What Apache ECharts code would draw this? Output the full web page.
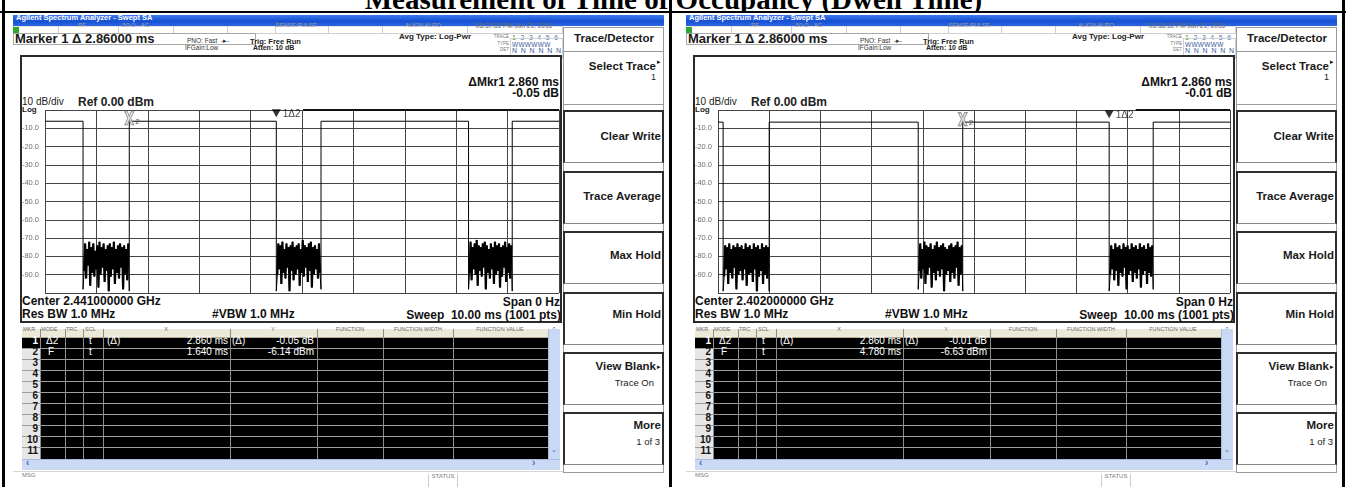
<!DOCTYPE html>
<html><head><meta charset="utf-8">
<script src="https://cdn.jsdelivr.net/npm/echarts@6/dist/echarts.min.js"></script>
<style>
html,body{margin:0;padding:0;}
body{width:1346px;height:487px;overflow:hidden;background:#fff;position:relative;font-family:"Liberation Sans",Arial,sans-serif;}
.a{position:absolute;white-space:pre;box-sizing:border-box;}
#chrome{position:absolute;left:0;top:0;width:1346px;height:487px;z-index:1;}
#chart{position:absolute;left:0;top:0;width:1346px;height:487px;z-index:2;}
</style></head>
<body>
<div id="chrome"></div>
<div id="chart"></div>
<script>
// ---------------- data ----------------
const TITLE = 'Measurement of Time of Occupancy (Dwell Time)';
const Y_TICK_LABELS = ['-10.0','-20.0','-30.0','-40.0','-50.0','-60.0','-70.0','-80.0','-90.0'];
// sweep time axis (ms), 10 divisions
const X_MIN = 0, X_MAX = 10;
// trace edges (ms): high / noise / high / noise / high / noise / high
const L_EDGES = [0, 0.74, 1.64, 4.50, 5.37, 8.24, 9.09, 10];
const R_EDGES = [0, 0.10, 1.00, 3.91, 4.78, 7.64, 8.50, 10];
const L_HIGH = -6.14;
const R_HIGH = -6.63;
// marker 2 (fixed) [ms, dBm], marker 1 delta [ms, dB]
const L_MK2 = [1.64, -6.14];
const R_MK2 = [4.78, -6.63];
const L_MK1_DELTA = [2.86, -0.05];
const R_MK1_DELTA = [2.86, -0.01];
// noise floor samples (dBm) for the off periods
const L_N1 = [-98,-88,-73,-92,-76,-85,-72,-96,-75,-89,-73,-91,-77,-87,-74,-97,-72,-90,-75,-86,-73,-94,-76,-88,-74,-99,-73,-91,-75,-87,-72,-95,-76,-89,-74,-92,-73,-86,-75,-98,-74,-90,-76,-93,-73,-99];
const L_N2 = [-99,-90,-73,-87,-74,-95,-72,-89,-76,-92,-73,-86,-75,-99,-74,-88,-72,-93,-75,-90,-74,-87,-73,-96,-76,-89,-71,-91,-74,-86,-75,-94,-73,-88,-72,-97,-75,-90,-74,-87,-76,-92,-73,-89,-98];
const L_N3 = [-98,-89,-72,-93,-75,-87,-73,-90,-71,-96,-74,-88,-75,-91,-73,-86,-72,-98,-74,-89,-76,-92,-73,-87,-75,-95,-72,-90,-74,-88,-73,-97,-75,-91,-74,-86,-72,-94,-75,-89,-73,-92,-74,-99];
const R_N1 = [-99,-91,-74,-87,-75,-95,-73,-89,-76,-92,-74,-86,-75,-98,-73,-90,-75,-88,-74,-93,-76,-87,-73,-96,-75,-90,-74,-89,-76,-94,-73,-87,-75,-99,-74,-91,-76,-88,-73,-95,-75,-90,-74,-92,-75,-99];
const R_N2 = [-98,-88,-73,-92,-76,-87,-72,-95,-74,-90,-75,-86,-73,-97,-76,-89,-74,-93,-72,-88,-75,-91,-74,-87,-73,-99,-75,-90,-76,-88,-74,-94,-73,-89,-75,-92,-74,-86,-72,-96,-75,-90,-74,-99];
const R_N3 = [-99,-90,-74,-87,-76,-93,-73,-88,-75,-96,-74,-89,-76,-91,-73,-86,-75,-98,-74,-90,-76,-88,-73,-94,-75,-89,-74,-92,-76,-87,-73,-97,-75,-90,-74,-88,-76,-95,-73,-89,-75,-91,-74,-98];
// screen texts
const L_TEXT = {time:'05:37:51 PM Jun 21, 2016', dMkr:'ΔMkr1 2.860 ms', dVal:'-0.05 dB', center:'Center 2.441000000 GHz', r1x:'2.860 ms', r1y:'-0.05 dB', r2x:'1.640 ms', r2y:'-6.14 dBm'};
const R_TEXT = {time:'05:36:12 PM Jun 21, 2016', dMkr:'ΔMkr1 2.860 ms', dVal:'-0.01 dB', center:'Center 2.402000000 GHz', r1x:'2.860 ms', r1y:'-0.01 dB', r2x:'4.780 ms', r2y:'-6.63 dBm'};
const SOFTKEYS = [['Clear Write',''],['Trace Average',''],['Max Hold',''],['Min Hold',''],['View Blank','Trace On'],['More','1 of 3']];
const TABLE_HEAD = ['FUNCTION','FUNCTION WIDTH','FUNCTION VALUE'];

// ---------------- chrome (HTML) ----------------
const F = '"Liberation Sans",Arial,sans-serif';
const root = document.getElementById('chrome');
function el(x,y,w,h,css){const d=document.createElement('div');d.className='a';d.style.cssText=`left:${x}px;top:${y}px;width:${w}px;height:${h}px;`+(css||'');root.appendChild(d);return d;}
function tx(x,yc,s,css,align,html){const d=document.createElement('div');d.className='a';if(html)d.innerHTML=s;else d.textContent=s;let st=`top:${yc-8}px;height:16px;line-height:16px;`+(css||'');if(align==='r'){st+=`right:${1346-x}px;text-align:right;`;}else if(align==='c'){st+=`left:${x-150}px;width:300px;text-align:center;`;}else{st+=`left:${x}px;`;}d.style.cssText=st;root.appendChild(d);return d;}

// outer document table
const tc = el(5,0,1337,11,'overflow:hidden;');
const tt = document.createElement('div');tt.className='a';tt.textContent=TITLE;
tt.style.cssText=`left:0;top:-15px;width:1337px;text-align:center;font:bold 29px "Liberation Serif","Times New Roman",serif;line-height:29px;color:#000;`;
tc.appendChild(tt);
el(0,11,1346,2,'background:#000;');
el(2,0,3,487,'background:#000;');
el(669,0,3,487,'background:#000;');
el(1342,0,3,487,'background:#000;');

function drawScreen(d,T){
  // title bar
  el(d+13,15,651,11,'background:linear-gradient(#3c7aec,#1651d4 55%,#2c66e0);');
  tx(d+16,20.5,'Agilent Spectrum Analyzer - Swept SA',`font:bold 7.5px ${F};color:#fff;`);
  // status row
  el(d+13,26,550,8,'background:#fff;border-top:1px solid #e2e2e2;border-bottom:1px solid #cfcfcf;');
  el(d+13,27,6,6,'background:#2fa82f;');
  [58,118,173,227,275,328,382,467,562].forEach(x=>el(d+x,26,1,8,'background:#cfcfcf;'));
  const sm=`font:6px ${F};color:#a0a0a0;`;
  tx(d+82,30,'RF',sm,'c');tx(d+129,30,'50 Ω',sm,'c');tx(d+145,30,'AC',sm,'c');
  tx(d+296,30,'SENSE:PULSE',sm,'c');tx(d+423,30,'ALIGN AUTO',sm,'c');
  tx(d+514,30,T.time,`font:6.5px ${F};color:#6a6a6a;`,'c');
  // marker entry
  el(d+13,33,243,12,'border:1px solid #a8a8a8;background:#fff;');
  tx(d+15,39,'Marker 1 Δ 2.86000 ms',`font:bold 13px ${F};color:#1a1a1a;`);
  tx(d+187,45,'PNO: Fast  -▸-',`font:6.5px ${F};color:#333;`);
  tx(d+185,51.5,'IFGain:Low',`font:6.5px ${F};color:#333;`);
  tx(d+250,45,'Trig: Free Run',`font:bold 7.5px ${F};color:#222;`);
  tx(d+253,52,'Atten: 10 dB',`font:bold 7px ${F};color:#222;`);
  tx(d+399,40,'Avg Type: Log-Pwr',`font:bold 8px ${F};color:#222;`);
  tx(d+509,42,'TRACE',`font:4.5px ${F};color:#777;`,'r');
  tx(d+512,42,'<span style="color:#3a9a3a">1</span> 2 3 4 5 6',`font:7px ${F};color:#5b7ab0;letter-spacing:1.3px;`,'l',true);
  tx(d+509,48.5,'TYPE',`font:4.5px ${F};color:#777;`,'r');
  tx(d+512,48.5,'WWWWWW',`font:6.5px ${F};color:#3a5a9a;letter-spacing:0.3px;`);
  tx(d+509,55,'DET',`font:4.5px ${F};color:#777;`,'r');
  tx(d+512,55,'N N N N N N',`font:7px ${F};color:#3a5a9a;letter-spacing:0.9px;`);
  el(d+510,38,53,21,'border:1px solid #d0d0d0;');
  // plot frame
  el(d+20,55,542,268,'border:2px solid #2a2a2a;background:#fff;');
  tx(d+559,83,T.dMkr,`font:bold 12px ${F};color:#111;`,'r');
  tx(d+559,93.5,T.dVal,`font:bold 12px ${F};color:#111;`,'r');
  tx(d+22,103.5,'10 dB/div',`font:10px ${F};color:#222;`);
  tx(d+78,102.5,'Ref 0.00 dBm',`font:bold 12px ${F};color:#222;`);
  tx(d+22,113,'Log',`font:bold 8px ${F};color:#222;`);
  tx(d+22,302,T.center,`font:bold 12px ${F};color:#111;`);
  tx(d+22,314.5,'Res BW 1.0 MHz',`font:bold 12px ${F};color:#111;`);
  tx(d+212,314.5,'#VBW 1.0 MHz',`font:bold 12px ${F};color:#111;`);
  tx(d+560,303,'Span 0 Hz',`font:bold 12px ${F};color:#111;`,'r');
  tx(d+561,315.5,'Sweep  10.00 ms (1001 pts)',`font:bold 12px ${F};color:#111;`,'r');
  // marker table
  el(d+22,329,538,9,'background:#ece9d8;border-bottom:1px solid #b5ae96;');
  const hs=`font:5.5px ${F};color:#6a6a6a;`;
  tx(d+23,333.5,'MKR',hs);tx(d+41,333.5,'MODE',hs);tx(d+66,333.5,'TRC',hs);tx(d+85,333.5,'SCL',hs);
  tx(d+166,333.5,'X',hs,'c');tx(d+273,333.5,'Y',hs,'c');
  tx(d+350,333.5,TABLE_HEAD[0],hs,'c');tx(d+418,333.5,TABLE_HEAD[1],hs,'c');tx(d+500,333.5,TABLE_HEAD[2],hs,'c');
  el(d+22,338,526,121,'background:#000;');
  el(d+22,349,18,110,'background:#e6e6e6;');
  for(let i=1;i<11;i++) el(d+22,338+i*11-1,526,1,'background:#a0a0a0;');
  [40,65,83,103,230,317,383,453].forEach(x=>el(d+x,329,1,130,'background:#8c8c8c;'));
  for(let i=0;i<11;i++) tx(d+38,338+i*11+5,String(i+1),`font:bold 10px ${F};color:${i===0?'#fff':'#111'};`,'r');
  const w=`font:10px ${F};color:#fff;`;
  tx(d+46,343,'Δ2',w);tx(d+89,343,'t',w);tx(d+107,343,'(Δ)',w);tx(d+228,343,T.r1x,w,'r');tx(d+232,343,'(Δ)',w);tx(d+314,343,T.r1y,w,'r');
  tx(d+48,354,'F',w);tx(d+89,354,'t',w);tx(d+228,354,T.r2x,w,'r');tx(d+314,354,T.r2y,w,'r');
  // scrollbars
  el(d+548,329,12,130,'background:#c9d8f3;border-left:1px solid #a9bde0;');
  tx(d+554,333.5,'⌃',`font:7px ${F};color:#4a6aa8;`,'c');
  tx(d+554,454,'⌄',`font:7px ${F};color:#4a6aa8;`,'c');
  el(d+22,459,538,11,'background:#cbd9f4;border-top:1px solid #a9bde0;');
  tx(d+26,464.5,'‹',`font:bold 10px ${F};color:#4a6aa8;`);
  tx(d+532,464.5,'›',`font:bold 10px ${F};color:#4a6aa8;`);
  // message bar
  el(d+13,471,551,16,'background:#fff;border-top:1px solid #d6d6d6;');
  tx(d+22,480,'MSG',`font:6px ${F};color:#7a7a7a;`);
  el(d+428,474,30,13,'border-left:1px solid #ccc;border-right:1px solid #ccc;');
  tx(d+443,481,'STATUS',`font:6px ${F};color:#7a7a7a;`,'c');
  // softkey panel
  el(d+563,27,101,446,'border:1px solid #9a9a9a;background:#fff;');
  el(d+563,27,101,25,'border-bottom:1px solid #9a9a9a;');
  tx(d+614,39.5,'Trace/Detector',`font:bold 11.5px ${F};color:#1a1a1a;`,'c');
  tx(d+656,68,'Select Trace',`font:bold 11.5px ${F};color:#1a1a1a;`,'r');
  tx(d+657,66,'▸',`font:7px ${F};color:#111;`);
  tx(d+656,80,'1',`font:9px ${F};color:#222;`,'r');
  el(d+563,104,101,1,'background:#9a9a9a;');
  const tops=[110,171,231,292,352,412];
  const ly=[138,198,257,316,368,427];
  SOFTKEYS.forEach((k,i)=>{
    el(d+563,tops[i],101,53,'border:2px solid #2e2e2e;border-bottom:1px solid #888;');
    const arrow = (k[0]==='View Blank');
    tx(arrow?d+656:d+661,ly[i],k[0],`font:bold 11.5px ${F};color:#1a1a1a;`,'r');
    if(arrow) tx(d+657,ly[i]+3,'▸',`font:7px ${F};color:#111;`);
    if(k[1]) tx(d+(arrow?654:660),ly[i]+17,k[1],`font:9.5px ${F};color:#222;`,'r');
  });
}
drawScreen(0,L_TEXT);
drawScreen(673,R_TEXT);

// ---------------- chart (ECharts) ----------------
function buildTrace(edges, high, noises){
  const d=[];
  for(let s=0;s<edges.length-1;s++){
    const a=edges[s], b=edges[s+1];
    if(s%2===0){ d.push([a,high]); d.push([b,high]); }
    else{ const n=noises[(s-1)/2]; for(let i=0;i<n.length;i++) d.push([a+(b-a)*i/(n.length-1), n[i]]); }
  }
  return d;
}
// noise-only overlay (dense black blocks), broken between blocks
function buildNoise(edges, noises){
  const d=[];
  for(let s=1;s<edges.length-1;s+=2){
    const a=edges[s], b=edges[s+1], n=noises[(s-1)/2];
    for(let i=1;i<n.length-1;i++) d.push([a+(b-a)*i/(n.length-1), n[i]]);
    d.push(null);
  }
  return d;
}
const traceL = buildTrace(L_EDGES, L_HIGH, [L_N1,L_N2,L_N3]);
const traceR = buildTrace(R_EDGES, R_HIGH, [R_N1,R_N2,R_N3]);
const noiseL = buildNoise(L_EDGES, [L_N1,L_N2,L_N3]);
const noiseR = buildNoise(R_EDGES, [R_N1,R_N2,R_N3]);
const X_SYMBOL = 'path://M0,0L3,0L5,5L7,0L10,0L6.5,7L10,14L7,14L5,9L3,14L0,14L3.5,7Z';

function axes(i){
  return {
    x:{gridIndex:i,type:'value',min:X_MIN,max:X_MAX,interval:1,axisLabel:{show:false},axisTick:{show:false},axisLine:{show:false},
       splitLine:{show:true,showMinLine:true,showMaxLine:true,lineStyle:{color:'#444',width:1}}},
    y:{gridIndex:i,type:'value',min:-100,max:0,interval:10,axisTick:{show:false},axisLine:{show:false},
       splitLine:{show:true,showMinLine:true,showMaxLine:true,lineStyle:{color:'#444',width:1}},
       axisLabel:{margin:6,fontSize:7.5,color:'#707070',fontFamily:F,
         formatter:v=>{const k=Math.round(-v/10)-1;return (k>=0&&k<Y_TICK_LABELS.length)?Y_TICK_LABELS[k]:'';}}}
  };
}
function seriesFor(i, trace, noise, mk2, delta){
  const mk1=[mk2[0]+delta[0], mk2[1]+delta[1]];
  return [
    {type:'line',xAxisIndex:i,yAxisIndex:i,data:trace,symbol:'none',silent:true,z:3,
     lineStyle:{color:'#000',width:1},
     markLine:{symbol:'none',silent:true,label:{show:false},lineStyle:{color:'#111',width:2,type:'solid'},
       data:[[{coord:[mk1[0]+0.52,0]},{coord:[X_MAX,0]}]]}},
    {type:'line',xAxisIndex:i,yAxisIndex:i,data:noise,symbol:'none',silent:true,z:3,connectNulls:false,
     lineStyle:{color:'#000',width:2.2,join:'miter',miterLimit:2}},
    {type:'scatter',xAxisIndex:i,yAxisIndex:i,data:[mk2],symbol:X_SYMBOL,symbolSize:[9,13],symbolOffset:[0,-3],z:5,silent:true,
     itemStyle:{color:'#e4e4e4',borderColor:'#7a7a7a',borderWidth:1},
     label:{show:true,formatter:'2',position:'right',distance:1,offset:[0,4],fontSize:8,color:'#333',fontFamily:F}},
    {type:'scatter',xAxisIndex:i,yAxisIndex:i,data:[mk1],symbol:'triangle',symbolRotate:180,symbolSize:[9,8],symbolOffset:[0,-8],z:5,silent:true,
     itemStyle:{color:'#000'},
     label:{show:true,formatter:'1Δ2',position:'right',distance:2,offset:[0,1],fontSize:10,color:'#111',fontFamily:F}}
  ];
}
const a0=axes(0), a1=axes(1);
const chart = echarts.init(document.getElementById('chart'), null, {renderer:'canvas'});
chart.setOption({
  animation:false,
  backgroundColor:'transparent',
  grid:[{left:45,top:110,width:514,height:183},{left:718,top:110,width:512,height:183}],
  xAxis:[a0.x,a1.x],
  yAxis:[a0.y,a1.y],
  series:[...seriesFor(0,traceL,noiseL,L_MK2,L_MK1_DELTA), ...seriesFor(1,traceR,noiseR,R_MK2,R_MK1_DELTA)]
});
</script>
</body></html>
